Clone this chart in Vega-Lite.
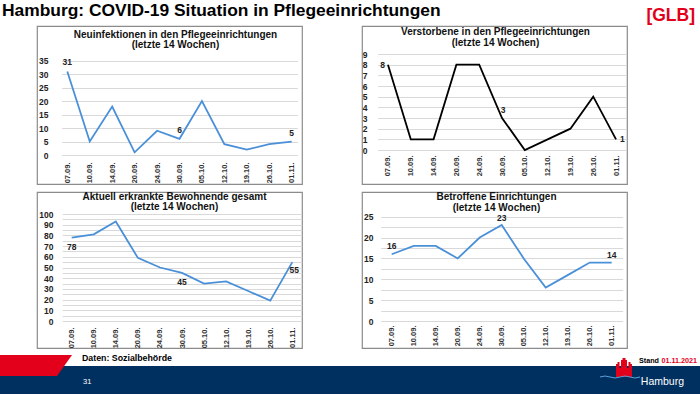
{
  "$schema": "https://vega.github.io/schema/vega-lite/v6.json",
  "background": "white",
  "padding": 0,
  "columns": 5,
  "align": "each",
  "bounds": "flush",
  "spacing": {"row": 8, "column": 0},
  "config": {
    "view": {"stroke": null},
    "font": "Liberation Sans",
    "title": {"font": "Liberation Sans", "fontSize": 10, "fontWeight": "bold", "color": "#111", "anchor": "middle", "lineHeight": 10.7},
    "axisX": {"labelAngle": -90, "grid": false, "domain": false, "ticks": false, "labelFont": "Liberation Sans", "labelFontSize": 7.5, "labelFontWeight": "bold", "labelColor": "#333", "labelPadding": 2},
    "axisY": {"grid": true, "gridColor": "#d9d9d9", "gridWidth": 1, "domain": false, "ticks": false, "labelFont": "Liberation Sans", "labelFontWeight": "bold", "labelFontSize": 8.5, "labelColor": "#222", "labelPadding": 2}
  },
  "datasets": {
    "covid": [
      {"d": "07.09.", "neu": 31, "tot": 8, "akt": 78, "bet": 16},
      {"d": "10.09.", "neu": 5, "tot": 1, "akt": 81, "bet": 18},
      {"d": "14.09.", "neu": 18, "tot": 1, "akt": 93, "bet": 18},
      {"d": "20.09.", "neu": 1, "tot": 8, "akt": 59, "bet": 15},
      {"d": "24.09.", "neu": 9, "tot": 8, "akt": 50, "bet": 20},
      {"d": "30.09.", "neu": 6, "tot": 3, "akt": 45, "bet": 23},
      {"d": "05.10.", "neu": 20, "tot": 0, "akt": 35, "bet": 15},
      {"d": "12.10.", "neu": 4, "tot": 1, "akt": 37, "bet": 8},
      {"d": "19.10.", "neu": 2, "tot": 2, "akt": 28, "bet": 11},
      {"d": "26.10.", "neu": 4, "tot": 5, "akt": 19, "bet": 14},
      {"d": "01.11.", "neu": 5, "tot": 1, "akt": 55, "bet": 14}
    ]
  },
  "concat": [
    {
      "width": 37, "height": 18,
      "data": {"values": [{"k": "l", "t": "Hamburg: COVID-19 Situation in Pflegeeinrichtungen"}]},
      "mark": {"type": "text", "align": "left", "baseline": "middle", "dx": 2, "dy": 2, "fontWeight": "bold", "fontSize": 17.4, "color": "#000"},
      "encoding": {
        "x": {"field": "k", "type": "nominal", "scale": {"type": "point", "domain": ["l", "r"], "padding": 0}, "axis": null},
        "text": {"field": "t"}
      }
    },
    {"width": 1, "height": 1, "data": {"values": []}, "mark": "text", "encoding": {}},
    {"width": 1, "height": 1, "data": {"values": []}, "mark": "text", "encoding": {}},
    {"width": 1, "height": 1, "data": {"values": []}, "mark": "text", "encoding": {}},
    {
      "width": 73, "height": 18,
      "data": {"values": [{"k": "r", "t": "[GLB]"}]},
      "mark": {"type": "text", "align": "right", "baseline": "middle", "dx": -5, "dy": 7, "fontWeight": "bold", "fontSize": 17.5, "color": "#e2001a"},
      "encoding": {
        "x": {"field": "k", "type": "nominal", "scale": {"type": "point", "domain": ["l", "r"], "padding": 0}, "axis": null},
        "text": {"field": "t"}
      }
    },

    {"width": 1, "height": 1, "data": {"values": []}, "mark": "text", "encoding": {}},
    {
      "width": 265, "height": 158,
      "view": {"stroke": "#8c8c8c", "strokeWidth": 1.2},
      "title": {"text": ["Neuinfektionen in den Pflegeeinrichtungen", "(letzte 14 Wochen)"], "offset": -24.5, "dx": 6},
      "data": {"name": "covid"},
      "encoding": {
        "x": {"field": "d", "type": "ordinal", "title": null, "scale": {"type": "point", "domain": ["07.09.","10.09.","14.09.","20.09.","24.09.","30.09.","05.10.","12.10.","19.10.","26.10.","01.11."], "range": [24.7, 260.3], "padding": 0.25}, "axis": {"offset": -24}},
        "y": {"field": "neu", "type": "quantitative", "title": null, "scale": {"domain": [0, 35], "range": [129, 34.7], "nice": false}, "axis": {"values": [0,5,10,15,20,25,30,35], "offset": -13}}
      },
      "layer": [
        {"mark": {"type": "line", "color": "#4a90d9", "strokeWidth": 1.8}},
        {"transform": [{"filter": {"field": "d", "oneOf": ["07.09.", "30.09.", "01.11."]}}], "mark": {"type": "text", "dy": -9, "fontWeight": "bold", "fontSize": 8.5, "color": "#222"}, "encoding": {"text": {"field": "neu"}}}
      ]
    },
    {"width": 60, "height": 1, "data": {"values": []}, "mark": "text", "encoding": {}},
    {
      "width": 265, "height": 158,
      "view": {"stroke": "#8c8c8c", "strokeWidth": 1.2},
      "title": {"text": ["Verstorbene in den Pflegeeinrichtungen", "(letzte 14 Wochen)"], "offset": -22, "dx": 1},
      "data": {"name": "covid"},
      "encoding": {
        "x": {"field": "d", "type": "ordinal", "title": null, "scale": {"type": "point", "domain": ["07.09.","10.09.","14.09.","20.09.","24.09.","30.09.","05.10.","12.10.","19.10.","26.10.","01.11."], "range": [15.7, 264.3], "padding": 0.45}, "axis": {"offset": -31}},
        "y": {"field": "tot", "type": "quantitative", "title": null, "scale": {"domain": [0, 9], "range": [124, 28], "nice": false}, "axis": {"values": [0,1,2,3,4,5,6,7,8,9], "offset": -7}}
      },
      "layer": [
        {"mark": {"type": "line", "color": "#000000", "strokeWidth": 1.8}},
        {"transform": [{"filter": {"field": "d", "equal": "07.09."}}], "mark": {"type": "text", "align": "right", "dx": -3, "fontWeight": "bold", "fontSize": 8.5, "color": "#222"}, "encoding": {"text": {"field": "tot"}}},
        {"transform": [{"filter": {"field": "d", "equal": "30.09."}}], "mark": {"type": "text", "dy": -8, "dx": 1, "fontWeight": "bold", "fontSize": 8.5, "color": "#222"}, "encoding": {"text": {"field": "tot"}}},
        {"transform": [{"filter": {"field": "d", "equal": "01.11."}}], "mark": {"type": "text", "align": "left", "dx": 4, "fontWeight": "bold", "fontSize": 8.5, "color": "#222"}, "encoding": {"text": {"field": "tot"}}}
      ]
    },
    {"width": 1, "height": 1, "data": {"values": []}, "mark": "text", "encoding": {}},

    {"width": 1, "height": 1, "data": {"values": []}, "mark": "text", "encoding": {}},
    {
      "width": 265, "height": 156,
      "view": {"stroke": "#8c8c8c", "strokeWidth": 1.2},
      "title": {"text": ["Aktuell erkrankte Bewohnende gesamt", "(letzte 14 Wochen)"], "offset": -20, "dx": 5, "lineHeight": 10},
      "data": {"name": "covid"},
      "encoding": {
        "x": {"field": "d", "type": "ordinal", "title": null, "scale": {"type": "point", "domain": ["07.09.","10.09.","14.09.","20.09.","24.09.","30.09.","05.10.","12.10.","19.10.","26.10.","01.11."], "range": [25.2, 264.8], "padding": 0.43}, "axis": {"offset": -23}},
        "y": {"field": "akt", "type": "quantitative", "title": null, "scale": {"domain": [0, 100], "range": [129, 22], "nice": false}, "axis": {"values": [0,5,10,15,20,25,30,35,40,45,50,55,60,65,70,75,80,85,90,95,100], "labelExpr": "datum.value % 10 === 0 ? datum.label : ''", "offset": -18}}
      },
      "layer": [
        {"mark": {"type": "line", "color": "#4a90d9", "strokeWidth": 1.8}},
        {"transform": [{"filter": {"field": "d", "oneOf": ["07.09.", "30.09."]}}], "mark": {"type": "text", "dy": 9, "fontWeight": "bold", "fontSize": 8.5, "color": "#222"}, "encoding": {"text": {"field": "akt"}}},
        {"transform": [{"filter": {"field": "d", "equal": "01.11."}}], "mark": {"type": "text", "dy": 8, "dx": 2, "fontWeight": "bold", "fontSize": 8.5, "color": "#222"}, "encoding": {"text": {"field": "akt"}}}
      ]
    },
    {"width": 1, "height": 1, "data": {"values": []}, "mark": "text", "encoding": {}},
    {
      "width": 265, "height": 156,
      "view": {"stroke": "#8c8c8c", "strokeWidth": 1.2},
      "title": {"text": ["Betroffene Einrichtungen", "(letzte 14 Wochen)"], "offset": -21, "dx": 2},
      "data": {"name": "covid"},
      "encoding": {
        "x": {"field": "d", "type": "ordinal", "title": null, "scale": {"type": "point", "domain": ["07.09.","10.09.","14.09.","20.09.","24.09.","30.09.","05.10.","12.10.","19.10.","26.10.","01.11."], "range": [18.7, 260.7], "padding": 0.5}, "axis": {"offset": -25}},
        "y": {"field": "bet", "type": "quantitative", "title": null, "scale": {"domain": [0, 25], "range": [129, 24.7], "nice": false}, "axis": {"values": [0,2.5,5,7.5,10,12.5,15,17.5,20,22.5,25], "labelExpr": "datum.value % 5 === 0 ? datum.label : ''", "offset": -13}}
      },
      "layer": [
        {"mark": {"type": "line", "color": "#4a90d9", "strokeWidth": 1.8}},
        {"transform": [{"filter": {"field": "d", "oneOf": ["07.09.", "01.11."]}}], "mark": {"type": "text", "dy": -8, "fontWeight": "bold", "fontSize": 8.5, "color": "#222"}, "encoding": {"text": {"field": "bet"}}},
        {"transform": [{"filter": {"field": "d", "equal": "30.09."}}], "mark": {"type": "text", "dy": -7, "fontWeight": "bold", "fontSize": 8.5, "color": "#222"}, "encoding": {"text": {"field": "bet"}}}
      ]
    },
    {"width": 1, "height": 1, "data": {"values": []}, "mark": "text", "encoding": {}},

    {
      "width": 37, "height": 2,
      "data": {"values": [{"k": "l", "t": "Daten: Sozialbehörde"}]},
      "mark": {"type": "text", "align": "left", "baseline": "middle", "dx": 82, "dy": 1, "fontSize": 8.8, "fontWeight": "bold", "color": "#000"},
      "encoding": {
        "x": {"field": "k", "type": "nominal", "scale": {"type": "point", "domain": ["l", "r"], "padding": 0}, "axis": null},
        "text": {"field": "t"}
      }
    },
    {"width": 1, "height": 1, "data": {"values": []}, "mark": "text", "encoding": {}},
    {"width": 1, "height": 1, "data": {"values": []}, "mark": "text", "encoding": {}},
    {"width": 1, "height": 1, "data": {"values": []}, "mark": "text", "encoding": {}},
    {
      "width": 73, "height": 2,
      "data": {"values": [{"k": "r", "t": "Stand"}, {"k": "r", "t": "01.11.2021"}]},
      "encoding": {
        "x": {"field": "k", "type": "nominal", "scale": {"type": "point", "domain": ["l", "r"], "padding": 0}, "axis": null},
        "text": {"field": "t"}
      },
      "layer": [
        {"transform": [{"filter": "datum.t === 'Stand'"}], "mark": {"type": "text", "align": "right", "baseline": "middle", "dx": -41, "dy": 3.5, "fontSize": 7.2, "fontWeight": "bold", "color": "#000"}},
        {"transform": [{"filter": "datum.t === '01.11.2021'"}], "mark": {"type": "text", "align": "right", "baseline": "middle", "dx": -3, "dy": 3.5, "fontSize": 7.2, "fontWeight": "bold", "color": "#e2001a"}}
      ]
    },

    {"width": 37, "height": 28, "view": {"fill": "#00305f", "stroke": null}, "data": {"values": []}, "mark": "text", "encoding": {}},
    {
      "width": 265, "height": 28,
      "view": {"fill": "#00305f", "stroke": null},
      "data": {"values": [{"k": "l", "t": "31"}]},
      "encoding": {
        "x": {"field": "k", "type": "nominal", "scale": {"type": "point", "domain": ["l", "r"], "padding": 0}, "axis": null}
      },
      "layer": [
        {"mark": {"type": "point", "shape": "M-37,-25 L35,-25 L20,-4 L-37,-4 Z", "size": 4, "filled": true, "opacity": 1, "color": "#e2001a", "strokeWidth": 0}},
        {"mark": {"type": "text", "align": "left", "baseline": "middle", "dx": 46, "dy": 2.3, "fontSize": 7.5, "color": "#ffffff"}, "encoding": {"text": {"field": "t"}}}
      ]
    },
    {"width": 60, "height": 28, "view": {"fill": "#00305f", "stroke": null}, "data": {"values": []}, "mark": "text", "encoding": {}},
    {"width": 265, "height": 28, "view": {"fill": "#00305f", "stroke": null}, "data": {"values": []}, "mark": "text", "encoding": {}},
    {
      "width": 73, "height": 28,
      "view": {"fill": "#00305f", "stroke": null},
      "data": {"values": [{"k": "r", "t": "Hamburg"}]},
      "encoding": {
        "x": {"field": "k", "type": "nominal", "scale": {"type": "point", "domain": ["l", "r"], "padding": 0}, "axis": null}
      },
      "layer": [
        {"mark": {"type": "point", "shape": "M-84,-3 L-84,-16 L-82.5,-16 L-82.5,-18 L-80.5,-18 L-80.5,-12 L-79,-12 L-79,-20 L-77.5,-20 L-77.5,-22 L-74.5,-22 L-74.5,-20 L-73,-20 L-73,-12 L-71.5,-12 L-71.5,-18 L-69.5,-18 L-69.5,-16 L-68,-16 L-68,-3 Z", "size": 4, "filled": true, "opacity": 1, "color": "#e2001a", "strokeWidth": 0}},
        {"mark": {"type": "point", "shape": "M-100,-3 Q-95,-5 -90,-3 T-80,-3 T-70,-3 T-60,-3", "size": 4, "filled": false, "opacity": 1, "color": "#5aa0d8", "strokeWidth": 1}},
        {"mark": {"type": "text", "align": "right", "baseline": "middle", "dx": -16, "dy": 1.5, "fontSize": 10.5, "color": "#ffffff"}, "encoding": {"text": {"field": "t"}}}
      ]
    }
  ]
}
